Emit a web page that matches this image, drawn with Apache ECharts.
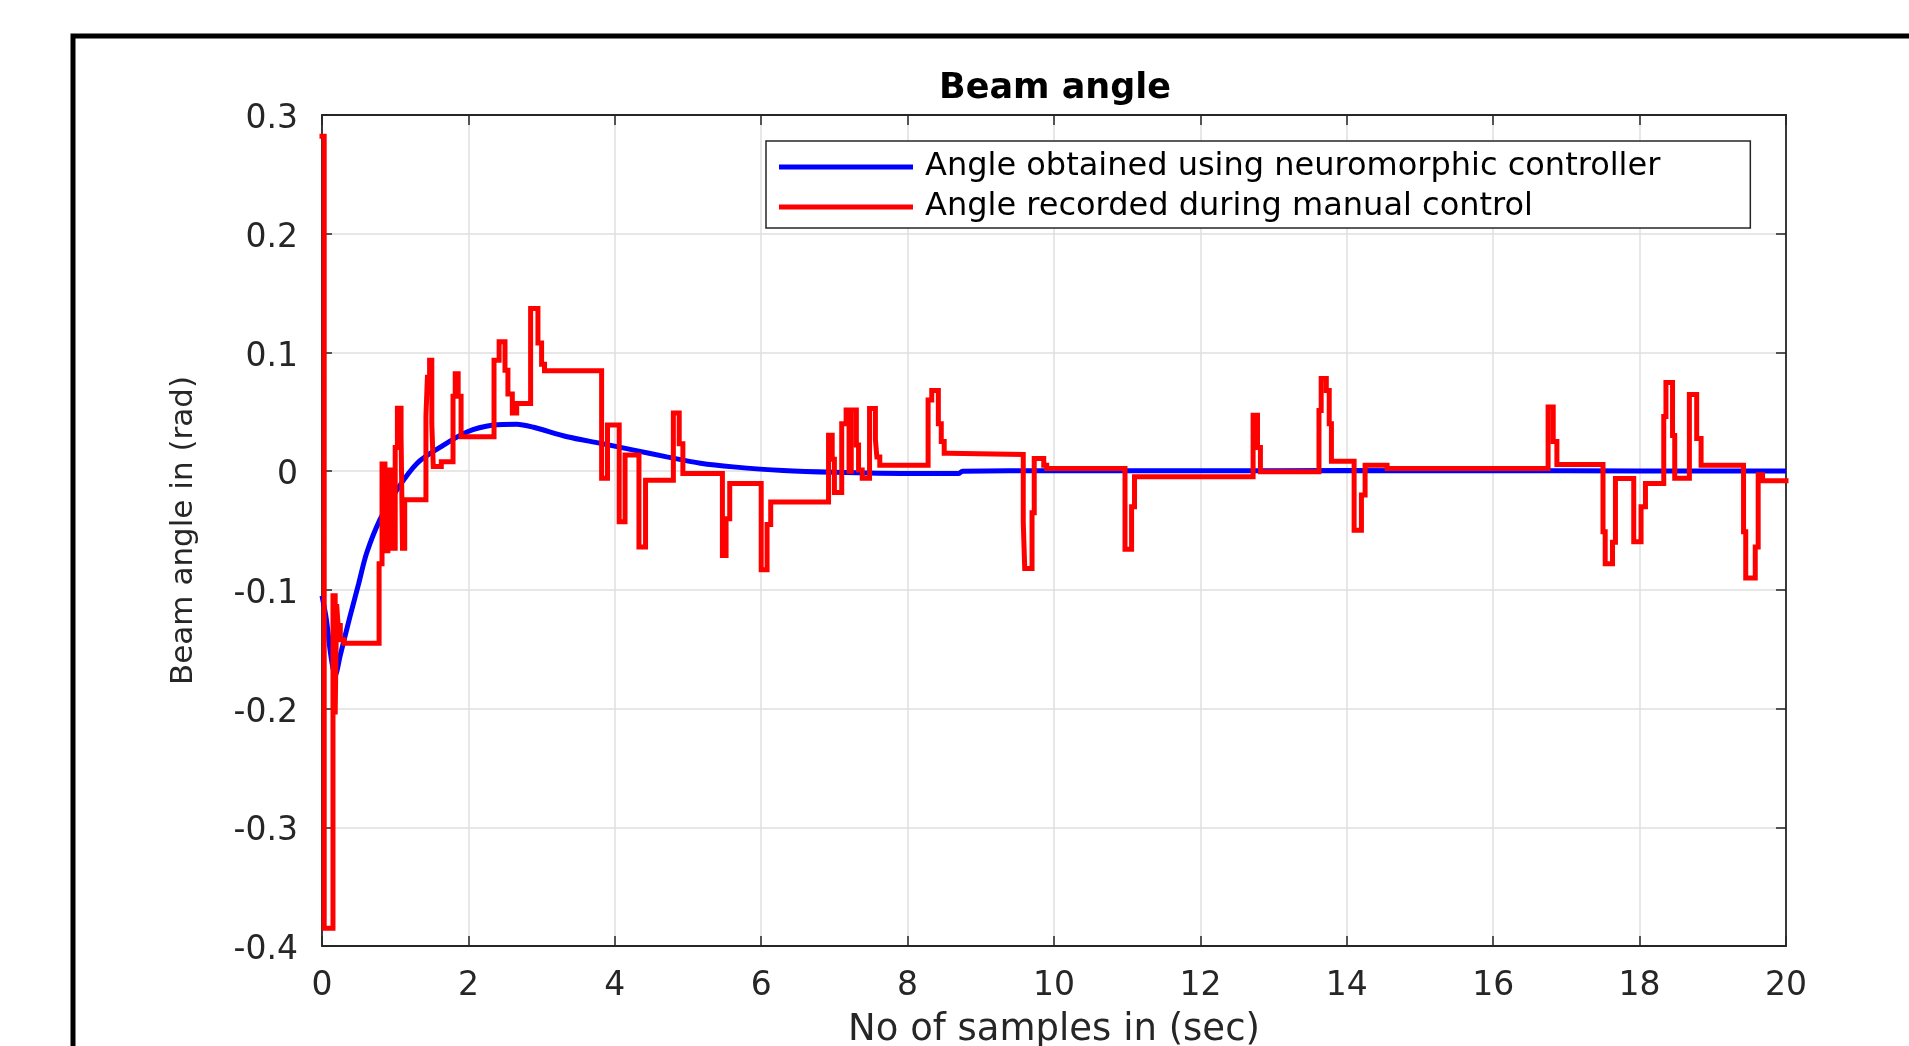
<!DOCTYPE html>
<html>
<head>
<meta charset="utf-8">
<script src="https://cdn.jsdelivr.net/npm/echarts@6/dist/echarts.min.js"></script>
<style>
  html, body { margin: 0; padding: 0; background: #fff; }
  #main { width: 1909px; height: 1046px; }
</style>
</head>
<body>
<div id="main"></div>
<script>
// ---- Data ----
const xTickValues = [0, 2, 4, 6, 8, 10, 12, 14, 16, 18, 20];
const yTickValues = [-0.4, -0.3, -0.2, -0.1, 0, 0.1, 0.2, 0.3];

// Neuromorphic controller response (blue)
const blueTime  = [0, 0.06, 0.12, 0.18, 0.25, 0.38, 0.5, 0.61, 0.79, 1.02, 1.3, 1.61, 1.98, 2.34, 2.66, 2.89, 3.35, 3.8, 4.26, 4.71, 5.17, 5.62, 6.3, 7.0, 8.0, 8.7, 8.75, 10, 12, 14, 16, 18, 20];
const blueAngle = [-0.105, -0.125, -0.155, -0.172, -0.155, -0.123, -0.095, -0.069, -0.041, -0.016, 0.0067, 0.020, 0.033, 0.0388, 0.0396, 0.037, 0.029, 0.0235, 0.0177, 0.012, 0.0067, 0.0036, 0.0005, -0.001, -0.002, -0.002, 0, 0.0003, 0.0003, 0.0005, 0.0003, 0.0002, 0.0002];

// Manual control recording (red, stair-step)
const redTime = [0, 0.03, 0.15, 0.18, 0.2, 0.22, 0.25, 0.3, 0.78, 0.82, 0.86, 0.9, 0.96, 1.0, 1.03, 1.08, 1.1, 1.13,
  1.42, 1.44, 1.47, 1.5, 1.52, 1.63, 1.79, 1.82, 1.86, 1.9, 2.35, 2.42, 2.5, 2.54, 2.6, 2.66, 2.85, 2.95, 3.0, 3.04,
  3.82, 3.9, 4.06, 4.14, 4.33, 4.42, 4.8, 4.88, 4.93, 5.47, 5.52, 5.57, 6.0, 6.08, 6.13,
  6.92, 6.97, 7.0, 7.1, 7.16, 7.2, 7.23, 7.3, 7.33, 7.38, 7.48, 7.56, 7.58, 7.62,
  8.28, 8.33, 8.42, 8.46, 8.5, 8.55, 9.58, 9.6, 9.7, 9.73, 9.86, 9.9, 10.97, 11.06, 11.1,
  12.72, 12.78, 12.82, 13.62, 13.65, 13.72, 13.76, 13.79, 14.1, 14.2, 14.25, 14.55,
  16.75, 16.82, 16.87, 17.5, 17.53, 17.63, 17.67, 17.92, 18.02, 18.08, 18.33, 18.36, 18.45, 18.48,
  18.68, 18.78, 18.84, 19.42, 19.45, 19.58, 19.62, 19.68, 20];
const redAngle = [0.282, -0.385, -0.105, -0.205, -0.112, -0.13, -0.142, -0.145, -0.078, 0.006, -0.067, 0.001, -0.065, 0.02, 0.053, 0.03, -0.065, -0.024,
  0.046, 0.079, 0.0935, 0.04, 0.004, 0.008, 0.063, 0.082, 0.063, 0.029, 0.0935, 0.109, 0.085, 0.065, 0.049, 0.057, 0.137, 0.108, 0.09, 0.0845,
  -0.006, 0.0388, -0.0427, 0.0135, -0.064, -0.0076, 0.049, 0.023, -0.002, -0.071, -0.04, -0.0104, -0.083, -0.045, -0.026,
  0.0303, 0.01, -0.018, 0.04, 0.0514, 0.0, 0.0514, 0.022, 0.001, -0.006, 0.0528, 0.027, 0.012, 0.005,
  0.06, 0.068, 0.04, 0.025, 0.015, 0.014, -0.043, -0.082, -0.035, 0.0107, 0.005, 0.0022, -0.0657, -0.03, -0.0048,
  0.047, 0.02, -0.0006, 0.051, 0.078, 0.068, 0.04, 0.0084, -0.0497, -0.02, 0.005, 0.0022,
  0.054, 0.025, 0.0056, -0.051, -0.078, -0.06, -0.0062, -0.0595, -0.03, -0.0104, 0.046, 0.0747, 0.03, -0.006,
  0.0646, 0.0275, 0.005, -0.051, -0.09, -0.064, -0.003, -0.008, -0.008];

const titleText = 'Beam angle';
const xName = 'No of samples in (sec)';
const yName = 'Beam angle in (rad)';
const blueName = 'Angle obtained using neuromorphic controller';
const redName = 'Angle recorded during manual control';

// ---- Build chart ----
const zip = (a, b) => a.map((v, i) => [v, b[i]]);
const FONT = 'DejaVu Sans';
const AX = '#262626';

const chart = echarts.init(document.getElementById('main'), null, { renderer: 'canvas' });

const xBase = { type: 'value', min: xTickValues[0], max: xTickValues[xTickValues.length - 1], interval: 2 };
const yBase = { type: 'value', min: yTickValues[0], max: yTickValues[yTickValues.length - 1], interval: 0.1 };
const tickStyle = { show: true, inside: true, length: 10, lineStyle: { color: AX, width: 1.5 } };
const lineStyleAx = { show: true, onZero: false, lineStyle: { color: AX, width: 1.8 } };

chart.setOption({
  animation: false,
  backgroundColor: '#ffffff',
  graphic: [{
    type: 'rect', silent: true, z: -10,
    shape: { x: 73, y: 36, width: 2200, height: 2200 },
    style: { fill: 'none', stroke: '#000', lineWidth: 5 }
  }],
  title: {
    text: titleText, left: 1055, top: 71, textAlign: 'center', padding: 0,
    textStyle: { fontFamily: FONT, fontWeight: 'bold', fontSize: 35, color: '#000' }
  },
  grid: { left: 322, right: 123, top: 115, bottom: 100, containLabel: false, outerBoundsMode: 'none' },
  legend: {
    data: [blueName, redName],
    orient: 'vertical', left: 766, top: 141,
    padding: [10, 90, 5, 13], itemGap: 8,
    itemWidth: 134, itemHeight: 5, icon: 'rect',
    backgroundColor: '#fff', borderColor: AX, borderWidth: 1.5, borderRadius: 0,
    textStyle: { fontFamily: FONT, fontSize: 32, color: '#000', padding: [0, 0, 0, 7] }
  },
  xAxis: [
    Object.assign({}, xBase, {
      position: 'bottom',
      name: xName, nameLocation: 'middle', nameGap: 66,
      nameTextStyle: { fontFamily: FONT, fontSize: 37, color: AX },
      axisLine: lineStyleAx, axisTick: tickStyle,
      axisLabel: { fontFamily: FONT, fontSize: 33, color: AX, margin: 24 },
      splitLine: { show: true, lineStyle: { color: '#dfdfdf', width: 1.5 } }
    }),
    Object.assign({}, xBase, {
      position: 'top',
      axisLine: lineStyleAx, axisTick: tickStyle,
      axisLabel: { show: false }, splitLine: { show: false }
    })
  ],
  yAxis: [
    Object.assign({}, yBase, {
      position: 'left',
      name: yName, nameLocation: 'middle', nameGap: 123, nameRotate: 90,
      nameTextStyle: { fontFamily: FONT, fontSize: 31, color: AX },
      axisLine: lineStyleAx, axisTick: tickStyle,
      axisLabel: { fontFamily: FONT, fontSize: 33, color: AX, margin: 24, verticalAlign: 'top', lineHeight: 9 },
      splitLine: { show: true, lineStyle: { color: '#dfdfdf', width: 1.5 } }
    }),
    Object.assign({}, yBase, {
      position: 'right',
      axisLine: lineStyleAx, axisTick: tickStyle,
      axisLabel: { show: false }, splitLine: { show: false }
    })
  ],
  series: [
    {
      name: blueName, type: 'line', xAxisIndex: 0, yAxisIndex: 0,
      data: zip(blueTime, blueAngle),
      showSymbol: false, smooth: 0.3, clip: false,
      color: '#0000ff',
      lineStyle: { color: '#0000ff', width: 5 },
      z: 2
    },
    {
      name: redName, type: 'line', xAxisIndex: 0, yAxisIndex: 0,
      data: zip(redTime, redAngle),
      step: 'end', showSymbol: false, clip: false,
      color: '#ff0000',
      lineStyle: { color: '#ff0000', width: 5, join: 'miter', cap: 'square' },
      z: 3
    }
  ]
});
</script>
</body>
</html>
